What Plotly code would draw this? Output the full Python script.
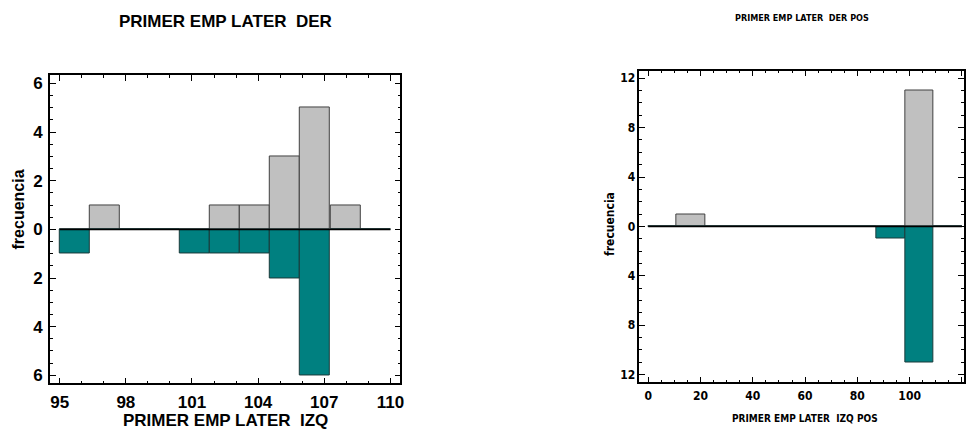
import plotly.graph_objects as go

# ---------------- data ----------------
# left histogram (PRIMER EMP LATER DER vs IZQ)
left_bin_lo = [95.0, 96.364, 97.727, 99.091, 100.455, 101.818, 103.182, 104.545, 105.909, 107.273, 108.636]
left_bin_w = 1.3636
left_der = [0, 1, 0, 0, 0, 1, 1, 3, 5, 1, 0]   # upper, grey
left_izq = [1, 0, 0, 0, 1, 1, 1, 2, 6, 0, 0]   # lower, teal
left_range_lo, left_range_hi = 95, 110

# right histogram (POS)
right_bin_lo = [0.0, 10.909, 21.818, 32.727, 43.636, 54.545, 65.455, 76.364, 87.273, 98.182, 109.091]
right_bin_w = 10.909
right_der = [0, 1, 0, 0, 0, 0, 0, 0, 0, 11, 0]
right_izq = [0, 0, 0, 0, 0, 0, 0, 0, 1, 11, 0]
right_range_lo, right_range_hi = 0, 120

left_xticks = [95, 98, 101, 104, 107, 110]
left_yticks = [-6, -4, -2, 0, 2, 4, 6]
left_yticktext = ["6", "4", "2", "0", "2", "4", "6"]
right_xticks = [0, 20, 40, 60, 80, 100, 120]
right_yticks = [-12, -8, -4, 0, 4, 8, 12]
right_yticktext = ["12", "8", "4", "0", "4", "8", "12"]

GREY = "#C0C0C0"
TEAL = "#008080"
EDGE = "#404040"
W = 969
H = 432

FONT_L = "Liberation Sans, Arial, sans-serif"
FONT_R = "Liberation Sans Narrow, DejaVu Sans Condensed, Liberation Sans, sans-serif"

fig = go.Figure()

def centers(lo, w):
    return [v + w / 2 for v in lo]

# left chart bars
fig.add_trace(go.Bar(x=centers(left_bin_lo, left_bin_w), y=left_der, width=left_bin_w,
                     marker=dict(color=GREY, line=dict(color=EDGE, width=1)),
                     xaxis="x", yaxis="y", showlegend=False))
fig.add_trace(go.Bar(x=centers(left_bin_lo, left_bin_w), y=[-v for v in left_izq], width=left_bin_w,
                     marker=dict(color=TEAL, line=dict(color="#1a3a3a", width=1)),
                     xaxis="x", yaxis="y", showlegend=False))
fig.add_trace(go.Scatter(x=[left_range_lo, left_range_hi], y=[0, 0], mode="lines",
                         line=dict(color="black", width=1.5), xaxis="x", yaxis="y",
                         showlegend=False, hoverinfo="skip"))

# right chart bars
fig.add_trace(go.Bar(x=centers(right_bin_lo, right_bin_w), y=right_der, width=right_bin_w,
                     marker=dict(color=GREY, line=dict(color=EDGE, width=1)),
                     xaxis="x2", yaxis="y2", showlegend=False))
fig.add_trace(go.Bar(x=centers(right_bin_lo, right_bin_w), y=[-v for v in right_izq], width=right_bin_w,
                     marker=dict(color=TEAL, line=dict(color="#1a3a3a", width=1)),
                     xaxis="x2", yaxis="y2", showlegend=False))
fig.add_trace(go.Scatter(x=[right_range_lo, right_range_hi], y=[0, 0], mode="lines",
                         line=dict(color="black", width=1.5), xaxis="x2", yaxis="y2",
                         showlegend=False, hoverinfo="skip"))

def px_x(p):
    return p / W

def px_y(p):
    return 1 - p / H

axis_common = dict(showgrid=False, zeroline=False, showline=True, linecolor="black",
                   linewidth=1.5, mirror="ticks", ticks="inside", tickcolor="black",
                   tickwidth=1)

fig.update_layout(
    width=W, height=H, margin=dict(l=0, r=0, t=0, b=0),
    paper_bgcolor="white", plot_bgcolor="white", barmode="overlay", bargap=0,
    xaxis=dict(domain=[px_x(50), px_x(402)], range=[94.55, 110.45], anchor="y",
               tickvals=left_xticks, ticklen=6, ticklabelstandoff=3,
               minor=dict(dtick=1, tick0=95, ticks="inside", ticklen=3, tickcolor="black"),
               tickfont=dict(family=FONT_L, size=17, color="black", weight="bold"),
               **axis_common),
    yaxis=dict(domain=[px_y(385), px_y(75)], range=[-6.33, 6.33], anchor="x",
               tickvals=left_yticks, ticktext=left_yticktext, ticklen=6, ticklabelstandoff=2,
               minor=dict(dtick=0.5, tick0=0, ticks="inside", ticklen=3, tickcolor="black"),
               tickfont=dict(family=FONT_L, size=17, color="black", weight="bold"),
               **axis_common),
    xaxis2=dict(domain=[px_x(642), px_x(968)], range=[-3.4, 120.8], anchor="y2",
                tickvals=right_xticks, ticklen=6, ticklabelstandoff=2,
                minor=dict(dtick=5, tick0=0, ticks="inside", ticklen=3, tickcolor="black"),
                tickfont=dict(family=FONT_R, size=12, color="black", weight="bold"),
                **axis_common),
    yaxis2=dict(domain=[px_y(384), px_y(70)], range=[-12.62, 12.62], anchor="x2",
                tickvals=right_yticks, ticktext=right_yticktext, ticklen=6,
                minor=dict(dtick=1, tick0=0, ticks="inside", ticklen=3, tickcolor="black"),
                tickfont=dict(family=FONT_R, size=12, color="black", weight="bold"),
                **axis_common),
)

def ann(text, x, y, family, size, angle=0):
    fig.add_annotation(text=text, x=px_x(x), y=px_y(y), xref="paper", yref="paper",
                       showarrow=False, xanchor="center", yanchor="middle", textangle=angle,
                       font=dict(family=family, size=size, color="black", weight="bold"))

ann("PRIMER EMP LATER  DER", 226, 21, FONT_L, 17)
ann("PRIMER EMP LATER  IZQ", 226, 422, FONT_L, 17)
ann("frecuencia", 19, 210, FONT_L, 16, -90)

ann("PRIMER EMP LATER  DER POS", 805, 17, FONT_R, 9)
ann("PRIMER EMP LATER  IZQ POS", 808, 420, FONT_R, 10)
ann("frecuencia", 613, 224, FONT_R, 12, -90)

fig.write_html("out.html")
